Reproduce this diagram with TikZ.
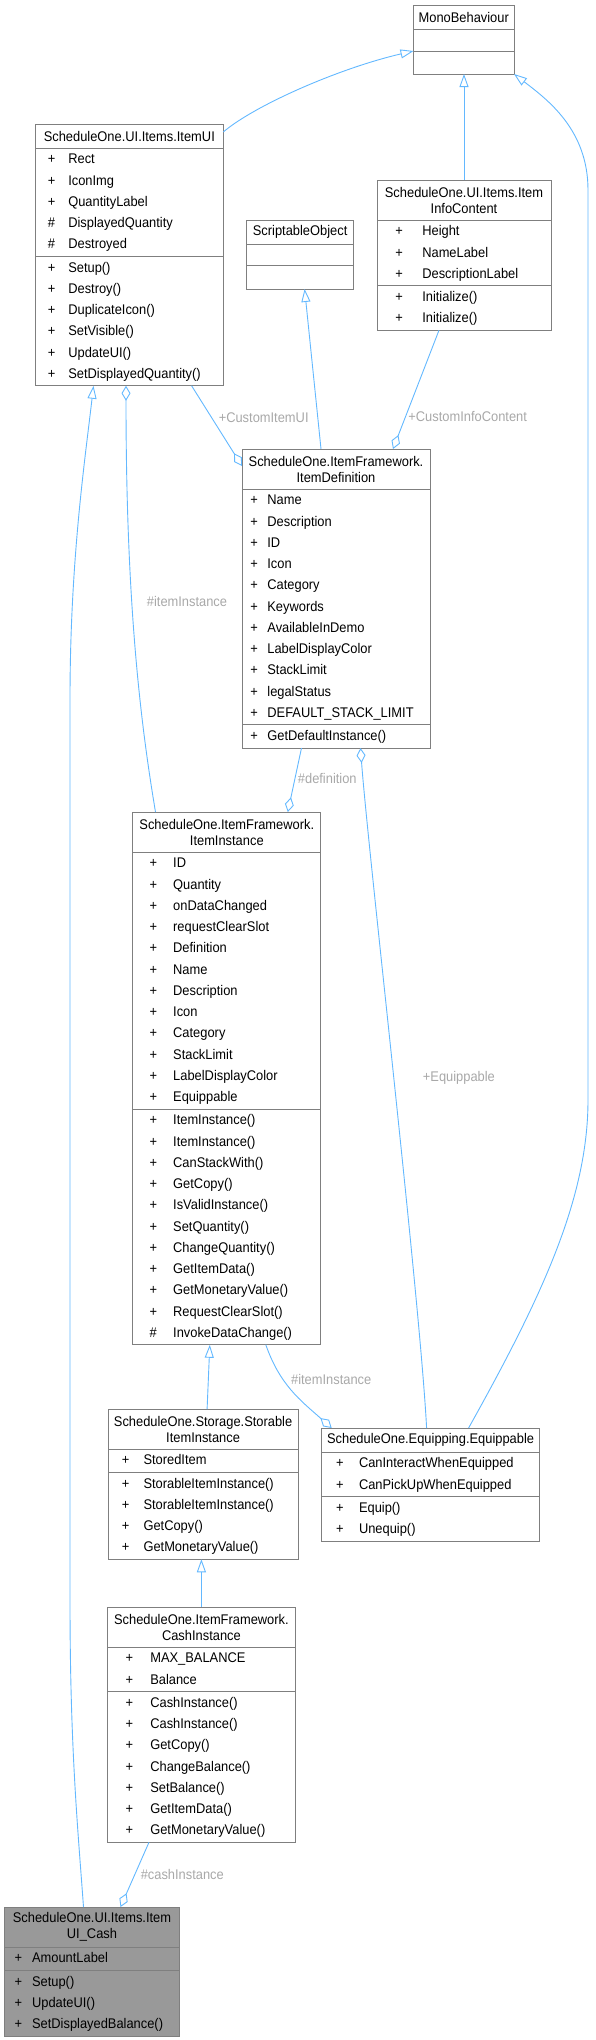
\documentclass[tikz,border=0pt]{standalone}
\usepackage{fontspec}
\setmainfont{Liberation Sans}[FakeStretch=0.92]
\usetikzlibrary{positioning,arrows.meta}
\definecolor{linkblue}{HTML}{63B8FF}
\definecolor{boxgray}{HTML}{7F7F7F}
\definecolor{labgray}{HTML}{A8A8A8}
\definecolor{cashgray}{HTML}{999999}
\newlength{\symx}
\newlength{\namex}
\newcommand{\mrow}[2]{\hspace*{\symx}\makebox[\namex][l]{#1}#2\strut}

\begin{document}
\begin{tikzpicture}[x=1pt, y=-1pt,
  every node/.style={font=\fontsize{14}{21.25}\selectfont, outer sep=0pt},
  head/.style={draw=boxgray, fill=white, line width=1pt, text width=#1, minimum height=24pt, inner xsep=0pt, inner ysep=0pt, align=center, font=\fontsize{14}{16}\selectfont},
  sect/.style={draw=boxgray, fill=white, line width=1pt, text width=#1, inner xsep=0pt, inner ysep=1pt, align=left},
  cols/.style 2 args={execute at begin node={\setlength{\symx}{#1}\setlength{\namex}{#2}}},
  inh/.style={-{Triangle[open, length=13pt, width=9pt]}, draw=linkblue, line width=0.9pt},
  agg/.style={{Diamond[open, length=15pt, width=9pt]}-, draw=linkblue, line width=0.9pt},
  lab/.style={text=labgray, inner sep=1pt}]

\useasboundingbox (0,0) rectangle (595,2040);

% classes
\node[head=100.5pt, anchor=north west] (mono) at (413.5,5) {MonoBehaviour};
\node[sect=100.5pt, minimum height=22pt, below=0pt of mono] (monoa) {};
\node[sect=100.5pt, minimum height=23pt, below=0pt of monoa] (monom) {};

\node[head=188pt, anchor=north west] (itemui) at (35.3,124) {ScheduleOne.UI.Items.ItemUI};
\node[sect=188pt, cols={12.5pt}{20.5pt}, below=0pt of itemui] (itemuia) {\mrow{+}{Rect}\\\mrow{+}{IconImg}\\\mrow{+}{QuantityLabel}\\\mrow{\#}{DisplayedQuantity}\\\mrow{\#}{Destroyed}};
\node[sect=188pt, cols={12.5pt}{20.5pt}, below=0pt of itemuia] (itemuim) {\mrow{+}{Setup()}\\\mrow{+}{Destroy()}\\\mrow{+}{DuplicateIcon()}\\\mrow{+}{SetVisible()}\\\mrow{+}{UpdateUI()}\\\mrow{+}{SetDisplayedQuantity()}};

\node[head=107pt, anchor=north west] (sobj) at (246.6,220) {ScriptableObject};
\node[sect=107pt, minimum height=21.5pt, below=0pt of sobj] (sobja) {};
\node[sect=107pt, minimum height=23.5pt, below=0pt of sobja] (sobjm) {};

\node[head=174pt, minimum height=40pt, anchor=north west] (info) at (377,180) {ScheduleOne.UI.Items.Item\\InfoContent};
\node[sect=174pt, cols={18.3pt}{27pt}, below=0pt of info] (infoa) {\mrow{+}{Height}\\\mrow{+}{NameLabel}\\\mrow{+}{DescriptionLabel}};
\node[sect=174pt, cols={18.3pt}{27pt}, below=0pt of infoa] (infom) {\mrow{+}{Initialize()}\\\mrow{+}{Initialize()}};

\node[head=188pt, minimum height=40pt, anchor=north west] (def) at (242,449) {ScheduleOne.ItemFramework.\\ItemDefinition};
\node[sect=188pt, cols={8.4pt}{17pt}, below=0pt of def] (defa) {\mrow{+}{Name}\\\mrow{+}{Description}\\\mrow{+}{ID}\\\mrow{+}{Icon}\\\mrow{+}{Category}\\\mrow{+}{Keywords}\\\mrow{+}{AvailableInDemo}\\\mrow{+}{LabelDisplayColor}\\\mrow{+}{StackLimit}\\\mrow{+}{legalStatus}\\\mrow{+}{DEFAULT\_STACK\_LIMIT}};
\node[sect=188pt, cols={8.4pt}{17pt}, below=0pt of defa] (defm) {\mrow{+}{GetDefaultInstance()}};

\node[head=188pt, minimum height=40pt, anchor=north west] (inst) at (132.8,812) {ScheduleOne.ItemFramework.\\ItemInstance};
\node[sect=188pt, cols={16.8pt}{23.6pt}, below=0pt of inst] (insta) {\mrow{+}{ID}\\\mrow{+}{Quantity}\\\mrow{+}{onDataChanged}\\\mrow{+}{requestClearSlot}\\\mrow{+}{Definition}\\\mrow{+}{Name}\\\mrow{+}{Description}\\\mrow{+}{Icon}\\\mrow{+}{Category}\\\mrow{+}{StackLimit}\\\mrow{+}{LabelDisplayColor}\\\mrow{+}{Equippable}};
\node[sect=188pt, cols={16.8pt}{23.6pt}, below=0pt of insta] (instm) {\mrow{+}{ItemInstance()}\\\mrow{+}{ItemInstance()}\\\mrow{+}{CanStackWith()}\\\mrow{+}{GetCopy()}\\\mrow{+}{IsValidInstance()}\\\mrow{+}{SetQuantity()}\\\mrow{+}{ChangeQuantity()}\\\mrow{+}{GetItemData()}\\\mrow{+}{GetMonetaryValue()}\\\mrow{+}{RequestClearSlot()}\\\mrow{\#}{InvokeDataChange()}};

\node[head=190pt, minimum height=40pt, anchor=north west] (stor) at (108.1,1409) {ScheduleOne.Storage.Storable\\ItemInstance};
\node[sect=190pt, cols={13.8pt}{21.6pt}, below=0pt of stor] (stora) {\mrow{+}{StoredItem}};
\node[sect=190pt, cols={13.8pt}{21.6pt}, below=0pt of stora] (storm) {\mrow{+}{StorableItemInstance()}\\\mrow{+}{StorableItemInstance()}\\\mrow{+}{GetCopy()}\\\mrow{+}{GetMonetaryValue()}};

\node[head=217.8pt, anchor=north west] (equip) at (321.7,1428) {ScheduleOne.Equipping.Equippable};
\node[sect=217.8pt, cols={14.5pt}{22.8pt}, below=0pt of equip] (equipa) {\mrow{+}{CanInteractWhenEquipped}\\\mrow{+}{CanPickUpWhenEquipped}};
\node[sect=217.8pt, cols={14.5pt}{22.8pt}, below=0pt of equipa] (equipm) {\mrow{+}{Equip()}\\\mrow{+}{Unequip()}};

\node[head=187.4pt, minimum height=40pt, anchor=north west] (cash) at (107.7,1607) {ScheduleOne.ItemFramework.\\CashInstance};
\node[sect=187.4pt, cols={18pt}{24.6pt}, below=0pt of cash] (casha) {\mrow{+}{MAX\_BALANCE}\\\mrow{+}{Balance}};
\node[sect=187.4pt, cols={18pt}{24.6pt}, below=0pt of casha] (cashm) {\mrow{+}{CashInstance()}\\\mrow{+}{CashInstance()}\\\mrow{+}{GetCopy()}\\\mrow{+}{ChangeBalance()}\\\mrow{+}{SetBalance()}\\\mrow{+}{GetItemData()}\\\mrow{+}{GetMonetaryValue()}};

\node[head=174.2pt, minimum height=40pt, fill=cashgray, anchor=north west] (uicash) at (4.9,1907) {ScheduleOne.UI.Items.Item\\UI\_Cash};
\node[sect=174.2pt, cols={9.8pt}{17.4pt}, fill=cashgray, below=0pt of uicash] (uicasha) {\mrow{+}{AmountLabel}};
\node[sect=174.2pt, cols={9.8pt}{17.4pt}, fill=cashgray, below=0pt of uicasha] (uicashm) {\mrow{+}{Setup()}\\\mrow{+}{UpdateUI()}\\\mrow{+}{SetDisplayedBalance()}};

% inheritance
\draw[inh] ([yshift=-8pt]itemui.north east) .. controls (255,105) and (340,68) .. (monom.north west);
\draw[inh] (info.north) -- (info.north |- monom.south);
\draw[inh] ([xshift=38pt]equip.north) .. controls (540,1300) and (588,1200) .. (588,1100) -- (588,190) .. controls (588,130) and (548,100) .. (monom.south east);
\draw[inh] ([xshift=-15pt]def.north) -- ([xshift=4.5pt]sobjm.south);
\draw[inh] ([xshift=4pt]stor.north) -- ([xshift=-17pt]instm.south);
\draw[inh] (cash.north) -- (cash.north |- storm.south);
\draw[inh] ([xshift=-8.5pt]uicash.north) .. controls (78,1830) and (70,1750) .. (70,1600) -- (70,700) .. controls (70,560) and (85,460) .. ([xshift=-35.8pt]itemuim.south);

% aggregation
\draw[agg] ([yshift=-17pt]def.north west) -- node[lab, pos=0.6, right=6pt] {+CustomItemUI} ([xshift=62.3pt]itemuim.south);
\draw[agg] ([xshift=57pt]def.north) -- node[lab, pos=0.27, right=2pt] {+CustomInfoContent} ([xshift=-25pt]infom.south);
\draw[agg] ([xshift=-3.3pt]itemuim.south) .. controls (126,600) and (140,720) .. node[lab, pos=0.4, right=14pt] {\#itemInstance} ([xshift=-71.3pt]inst.north);
\draw[agg] ([xshift=61pt]inst.north) -- node[lab, pos=0.52, right=2pt] {\#definition} ([xshift=-34.5pt]defm.south);
\draw[agg] ([xshift=24.5pt]defm.south) .. controls (368,850) and (420,1300) .. node[lab, pos=0.5, right=28pt] {+Equippable} ([xshift=-4pt]equip.north);
\draw[agg] ([xshift=10pt]equip.north west) .. controls (300,1400) and (280,1385) .. node[lab, pos=0.65, right=7pt] {\#itemInstance} ([xshift=39pt]instm.south);
\draw[agg] ([xshift=28.5pt]uicash.north) -- node[lab, pos=0.5, right=5pt] {\#cashInstance} ([xshift=-52.4pt]cashm.south);
\end{tikzpicture}
\end{document}
